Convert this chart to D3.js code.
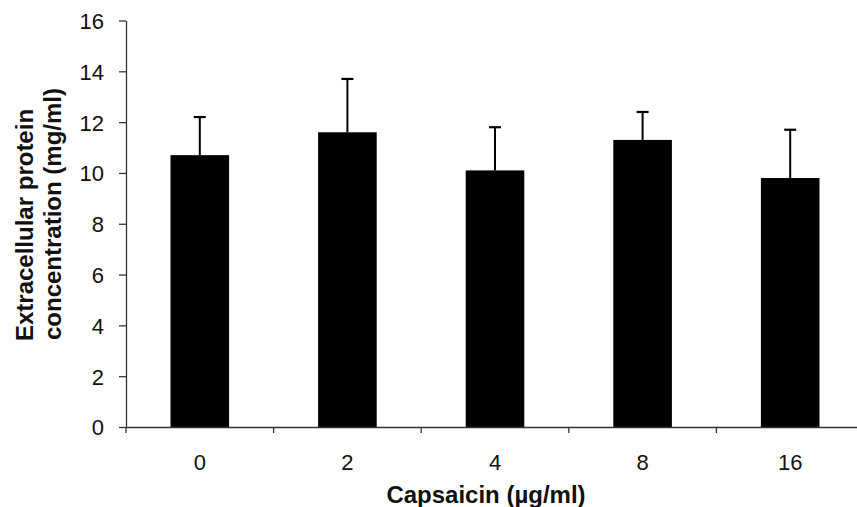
<!DOCTYPE html>
<html><head><meta charset="utf-8">
<script src="https://cdn.jsdelivr.net/npm/d3@7"></script>
<style>body{margin:0;background:#fff;}svg{display:block;font-family:"Liberation Sans",Arial,sans-serif;}</style>
</head><body>
<script>
const categories = ["0","2","4","8","16"];
const means = [10.7, 11.6, 10.1, 11.3, 9.8];
const errors = [1.5, 2.1, 1.7, 1.1, 1.9];
const yTicks = [0,2,4,6,8,10,12,14,16];

(function(){
const W = 857, H = 507;
const svg = d3.select("body").append("svg").attr("width", W).attr("height", H);
const mLeft = 126, mRight = 864, mTop = 20.5, mBottom = 427;

const xs = d3.scaleBand().domain(categories).range([mLeft, mRight]);
const y = d3.scaleLinear().domain([0,16]).range([mBottom, mTop]);
const cx = d => xs(d) + xs.bandwidth()/2;
const barW = 58.6;

svg.selectAll("rect.bar").data(categories).enter().append("rect")
  .attr("x", d => cx(d) - barW/2)
  .attr("width", barW)
  .attr("y", (d,i) => y(means[i]))
  .attr("height", (d,i) => y(0) - y(means[i]))
  .attr("fill", "#000");

const eg = svg.selectAll("g.err").data(categories).enter().append("g");
eg.append("line")
  .attr("x1", d => cx(d)).attr("x2", d => cx(d))
  .attr("y1", (d,i) => y(means[i]))
  .attr("y2", (d,i) => y(means[i] + errors[i]))
  .attr("stroke", "#000").attr("stroke-width", 2);
eg.append("line")
  .attr("x1", d => cx(d) - 6).attr("x2", d => cx(d) + 6)
  .attr("y1", (d,i) => y(means[i] + errors[i]))
  .attr("y2", (d,i) => y(means[i] + errors[i]))
  .attr("stroke", "#000").attr("stroke-width", 2.2);

const yAxis = svg.append("g").attr("transform", `translate(${mLeft},0)`)
  .call(d3.axisLeft(y).tickValues(yTicks).tickSize(7).tickPadding(15).tickSizeOuter(0));
yAxis.select(".domain").attr("stroke", "#333").attr("stroke-width", 1.3);
yAxis.selectAll(".tick line").attr("stroke", "#333").attr("stroke-width", 1.3);
yAxis.selectAll("text").attr("font-size", 22).attr("fill", "#111").attr("dy", "0.36em")
  .attr("font-family", "Liberation Sans, Arial, sans-serif");

const xAxisG = svg.append("g").attr("transform", `translate(0,${mBottom})`)
  .call(d3.axisBottom(xs).tickSize(0).tickPadding(0).tickSizeOuter(0));
xAxisG.select(".domain").attr("stroke", "#333").attr("stroke-width", 1.3);
xAxisG.selectAll(".tick text").attr("font-size", 22).attr("fill", "#111").attr("dy", 0).attr("y", 43)
  .attr("font-family", "Liberation Sans, Arial, sans-serif");
const bounds = categories.map(d => xs(d)).concat([mRight]);
xAxisG.selectAll("line.bt").data(bounds).enter().append("line")
  .attr("x1", d => d).attr("x2", d => d).attr("y1", 0).attr("y2", 6)
  .attr("stroke", "#333").attr("stroke-width", 1.3);

svg.append("text").attr("x", 486).attr("y", 503).attr("text-anchor", "middle")
  .attr("font-size", 24).attr("font-weight", "bold").attr("fill", "#111")
  .text("Capsaicin (µg/ml)");
svg.append("text").attr("transform", "translate(33,225) rotate(-90)")
  .attr("text-anchor", "middle").attr("font-size", 24).attr("font-weight", "bold").attr("fill", "#111")
  .text("Extracellular protein");
svg.append("text").attr("transform", "translate(61,214) rotate(-90)")
  .attr("text-anchor", "middle").attr("font-size", 24).attr("font-weight", "bold").attr("fill", "#111")
  .text("concentration (mg/ml)");
})();
</script>
</body></html>
